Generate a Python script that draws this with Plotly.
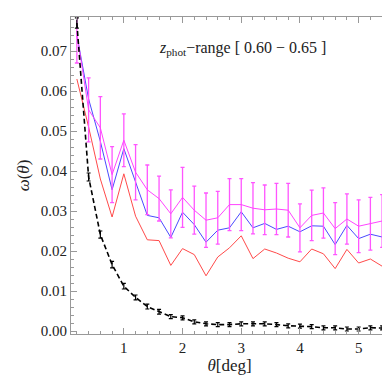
import plotly.graph_objects as go

theta = [0.2, 0.4, 0.6, 0.8, 1.0, 1.2, 1.4, 1.6, 1.8, 2.0, 2.2, 2.4, 2.6, 2.8,
         3.0, 3.2, 3.4, 3.6, 3.8, 4.0, 4.2, 4.4, 4.6, 4.8, 5.0, 5.2, 5.4, 5.6]

w_magenta = [0.0745, 0.0553, 0.0508, 0.0391, 0.0477, 0.0397, 0.0353, 0.0331,
             0.0293, 0.0334, 0.0302, 0.0277, 0.0283, 0.0316, 0.0316, 0.0307,
             0.0303, 0.0305, 0.0302, 0.0258, 0.0289, 0.0295, 0.0256, 0.0280,
             0.0262, 0.0268, 0.0275, 0.0258]
err_magenta = [0.0075, 0.0080, 0.0078, 0.0070, 0.0066, 0.0069, 0.0062, 0.0056,
               0.0060, 0.0075, 0.0060, 0.0068, 0.0066, 0.0065, 0.0065, 0.0064,
               0.0062, 0.0064, 0.0067, 0.0060, 0.0063, 0.0063, 0.0065, 0.0063,
               0.0066, 0.0066, 0.0066, 0.0066]

w_blue = [0.0740, 0.0580, 0.0474, 0.0353, 0.0456, 0.0370, 0.0289, 0.0283,
          0.0234, 0.0297, 0.0266, 0.0222, 0.0252, 0.0258, 0.0298, 0.0258,
          0.0269, 0.0254, 0.0262, 0.0248, 0.0263, 0.0262, 0.0216, 0.0264,
          0.0231, 0.0242, 0.0235, 0.0212]

w_red = [0.0630, 0.0510, 0.0380, 0.0285, 0.0393, 0.0287, 0.0228, 0.0226,
         0.0164, 0.0206, 0.0191, 0.0138, 0.0185, 0.0208, 0.0238, 0.0181,
         0.0205, 0.0195, 0.0182, 0.0173, 0.0205, 0.0193, 0.0156, 0.0204,
         0.0170, 0.0180, 0.0162, 0.0158]

w_black = [0.0770, 0.0385, 0.0241, 0.0166, 0.0112, 0.0084, 0.0061, 0.0048,
           0.0036, 0.0033, 0.0023, 0.0018, 0.0016, 0.0016, 0.0018, 0.0018,
           0.0018, 0.0016, 0.0013, 0.0012, 0.0011, 0.0008, 0.0008, 0.0005,
           0.0005, 0.0008, 0.0008, 0.0007]
err_black = [0.0013, 0.0010, 0.0009, 0.0008, 0.0007, 0.0006, 0.0006, 0.0006,
             0.0005, 0.0005, 0.0005, 0.0005, 0.0005, 0.0005, 0.0005, 0.0005,
             0.0005, 0.0005, 0.0005, 0.0005, 0.0005, 0.0005, 0.0005, 0.0005,
             0.0005, 0.0005, 0.0005, 0.0005]

fig = go.Figure()

fig.add_trace(go.Scatter(x=theta, y=w_red, mode='lines',
                         line=dict(color='#ff4a4a', width=1)))
fig.add_trace(go.Scatter(x=theta, y=w_blue, mode='lines',
                         line=dict(color='#4a4aff', width=1)))
fig.add_trace(go.Scatter(x=theta, y=w_magenta, mode='lines',
                         line=dict(color='#ff44ff', width=1),
                         error_y=dict(type='data', array=err_magenta,
                                      color='#ff55ff', thickness=1.3, width=2)))
fig.add_trace(go.Scatter(x=theta, y=w_black, mode='lines',
                         line=dict(color='black', width=1.6, dash='5px,3px'),
                         error_y=dict(type='data', array=err_black,
                                      color='black', thickness=1.2, width=2)))

serif = 'Liberation Serif'
axis_common = dict(showgrid=False, zeroline=False, showline=True, linecolor='#999999',
                   linewidth=1, mirror='ticks', ticks='inside', ticklen=6,
                   tickcolor='#999999', tickfont=dict(family=serif, size=15, color='#222'))

fig.update_layout(
    width=390, height=376,
    margin=dict(l=63, r=10, t=9, b=50),
    plot_bgcolor='white', paper_bgcolor='white',
    showlegend=False,
    xaxis=dict(range=[0.1, 5.5], tickvals=[1, 2, 3, 4, 5],
               minor=dict(dtick=0.2, tick0=0, ticks='inside', ticklen=3, tickcolor='#999999'),
               title=dict(text='<i>θ</i>[deg]', font=dict(family=serif, size=17, color='#222'),
                          standoff=2),
               **axis_common),
    yaxis=dict(range=[-0.00075, 0.0785], dtick=0.01, tick0=0, tickformat='.2f',
               minor=dict(dtick=0.002, tick0=0, ticks='inside', ticklen=3, tickcolor='#999999'),
               title=dict(text='<i>ω</i>(<i>θ</i>)', font=dict(family=serif, size=17, color='#222'),
                          standoff=6),
               **axis_common),
    annotations=[dict(x=0.54, y=0.9, xref='paper', yref='paper', showarrow=False,
                      xanchor='center', yanchor='middle',
                      text='<i>z</i><sub>phot</sub>−range [ 0.60 − 0.65 ]',
                      font=dict(family=serif, size=16, color='#222'))],
)

fig.write_html("out.html")
